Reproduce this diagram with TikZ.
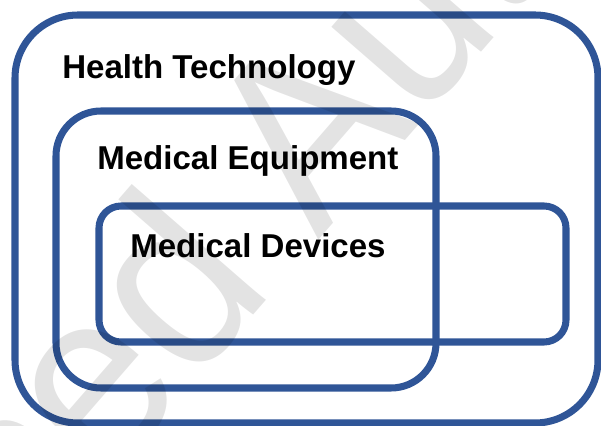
\documentclass[tikz,border=0pt]{standalone}
\usepackage{fontspec}
\setmainfont{Liberation Sans}
\definecolor{boxblue}{RGB}{47,85,151}
\tikzstyle{blueline}=[draw=boxblue,line width=5pt]
\tikzstyle{boxlabel}=[anchor=base west,inner sep=0pt,font=\fontsize{23.5}{28}\selectfont\bfseries]
\tikzstyle{stamp}=[anchor=base west,inner sep=0pt,text=black,text opacity=0.11,
  font=\fontsize{174}{200}\selectfont,rotate=49,xscale=0.95]

\begin{document}
\begin{tikzpicture}[x=0.025cm,y=-0.025cm]
    \useasboundingbox (0,0) rectangle (601,426);
    \clip (0,0) rectangle (601,426);

    % nested boxes
    \draw[blueline,rounded corners=1.575cm] (15,15) rectangle (598,423);
    \draw[blueline,rounded corners=1.125cm] (56,111) rectangle (436,388);
    \draw[blueline,rounded corners=0.55cm] (99,206) rectangle (566,342);

    \node[boxlabel] (tech) at (62,79) {Health Technology};
    \node[boxlabel] (equip) at (97,170) {Medical Equipment};
    \node[boxlabel] (dev) at (130,258) {Medical Devices};

    % watermark
    \node[stamp] (mark) at (30,572) {sed Aut};
\end{tikzpicture}
\end{document}
